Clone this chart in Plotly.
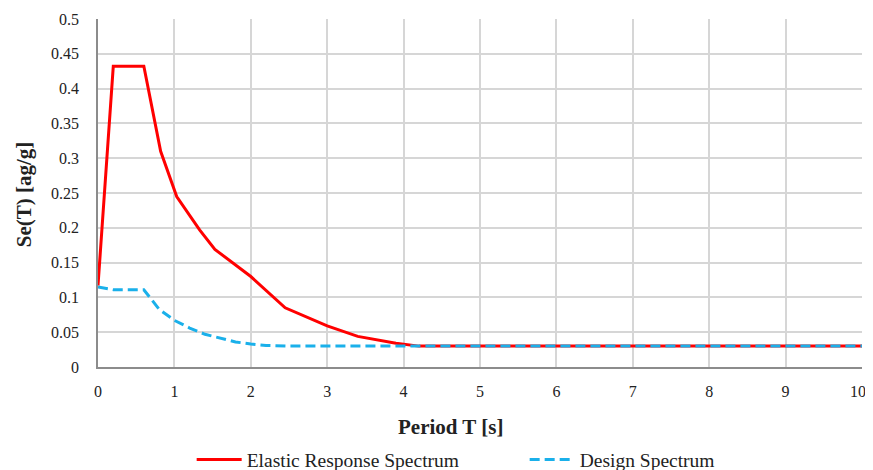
import plotly.graph_objects as go

# Elastic response spectrum (red)
elastic_T = [0.0, 0.2, 0.6, 0.82, 1.03, 1.33, 1.53, 2.0, 2.45, 3.0, 3.4, 3.9, 4.2, 10.0]
elastic_Se = [0.117, 0.432, 0.432, 0.31, 0.245, 0.197, 0.169, 0.13, 0.085, 0.059, 0.044, 0.034, 0.03, 0.03]

# Design spectrum (blue dashed)
design_T = [0.0, 0.2, 0.6, 0.8, 1.0, 1.2, 1.4, 1.6, 1.8, 2.0, 2.2, 2.5, 10.0]
design_Se = [0.115, 0.111, 0.111, 0.083, 0.067, 0.056, 0.047, 0.041, 0.036, 0.033, 0.031, 0.03, 0.03]

x_ticks = [0, 1, 2, 3, 4, 5, 6, 7, 8, 9, 10]
x_tick_labels = ["0", "1", "2", "3", "4", "5", "6", "7", "8", "9", "10\u00a0\u00a0"]
y_ticks = [0, 0.05, 0.1, 0.15, 0.2, 0.25, 0.3, 0.35, 0.4, 0.45, 0.5]
y_tick_labels = ["0", "0.05", "0.1", "0.15", "0.2", "0.25", "0.3", "0.35", "0.4", "0.45", "0.5"]

FONT = "Liberation Serif"

fig = go.Figure()
fig.add_trace(go.Scatter(
    x=elastic_T, y=elastic_Se, mode="lines", name="Elastic Response Spectrum",
    line=dict(color="#ff0000", width=3),
))
fig.add_trace(go.Scatter(
    x=design_T, y=design_Se, mode="lines", name="Design Spectrum",
    line=dict(color="#1ab0ea", width=3, dash="10px,5px"),
))

fig.update_layout(
    template="none",
    width=873, height=462,
    margin=dict(l=90, r=19, t=11, b=103, autoexpand=False),
    paper_bgcolor="white", plot_bgcolor="white",
    font=dict(family=FONT, size=16, color="#222"),
    showlegend=True,
    legend=dict(orientation="h", x=0.1226, xanchor="left", y=-0.267, yanchor="middle",
                font=dict(family=FONT, size=19.5, color="#222"), itemwidth=45,
                entrywidth=273, entrywidthmode="pixels",
                traceorder="normal", bgcolor="rgba(0,0,0,0)"),
    xaxis=dict(range=[0, 10], tickvals=x_ticks, ticktext=x_tick_labels, ticks="", showgrid=True,
               automargin=False, gridcolor="#d6d6d6", gridwidth=1.5, showline=True,
               linecolor="#8c8c8c", linewidth=1.5, zeroline=False, ticklabelstandoff=9,
               ticklabeloverflow="allow",
               tickfont=dict(family=FONT, size=16, color="#222")),
    yaxis=dict(range=[0, 0.5], tickvals=y_ticks, ticktext=y_tick_labels, ticks="",
               showgrid=True, automargin=False, gridcolor="#d6d6d6", gridwidth=1.5, showline=True,
               linecolor="#8c8c8c", linewidth=1.5, zeroline=False, ticklabelstandoff=14,
               tickfont=dict(family=FONT, size=16, color="#222")),
    annotations=[
        dict(text="<b>Period T [s]</b>", xref="paper", yref="paper", x=0.461, y=-0.172,
             xanchor="center", yanchor="middle", showarrow=False,
             font=dict(family=FONT, size=21, color="#222")),
        dict(text="<b>Se(T) [ag/g]</b>", xref="paper", yref="paper", x=-0.0975, y=0.495,
             xanchor="center", yanchor="middle", showarrow=False, textangle=-90,
             font=dict(family=FONT, size=21, color="#222")),
    ],
)

fig.write_html("out.html")
